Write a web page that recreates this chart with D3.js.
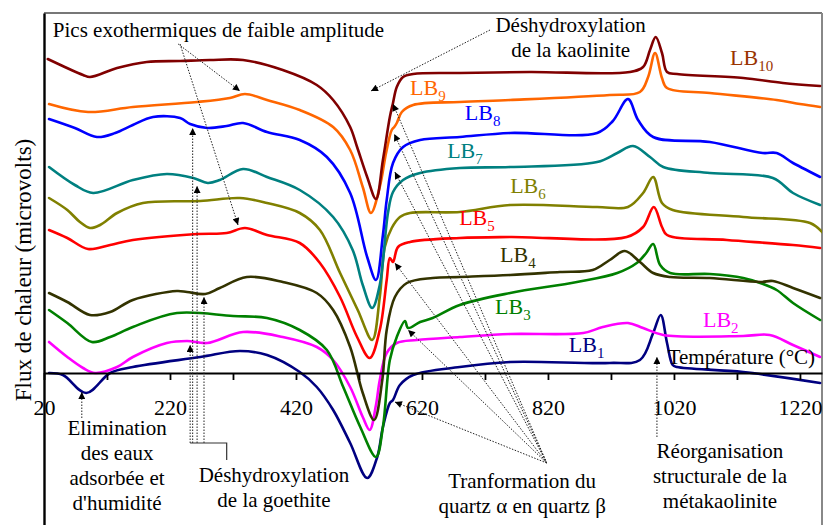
<!DOCTYPE html>
<html>
<head>
<meta charset="utf-8">
<script src="https://cdn.jsdelivr.net/npm/d3@7"></script>
<style>
  html, body { margin: 0; padding: 0; background: #fff; }
  svg { display: block; font-family: "Liberation Serif", "Times New Roman", serif; }
</style>
</head>
<body>
<svg id="chart" width="828" height="525"></svg>
<script>
// Thermal analysis (DTA) curves of samples LB1..LB10: heat flux vs temperature.
// Each series: [temperature °C, signal (arbitrary µV, stacked offsets)]
const lb1 = [[28,0],[50,-2],[87,-20],[125,0],[161,6],[268,16],[331,22],[374,18],[426,1],[453,-14],[479,-37],[506,-70],[533,-105],[549,-84],[558,-54],[569,-30],[574,-27],[585,-12],[606,-2],[680,6],[760,11],[918,10],[966,13],[987,40],[999,58],[1009,30],[1018,8],[1025,6],[1130,1],[1252,-10]];
const lb2 = [[28,31],[57,16],[82,5],[101,0],[136,6],[161,16],[215,30],[247,32],[279,30],[336,41],[399,36],[453,26],[479,13],[506,-14],[526,-44],[537,-57],[547,-32],[553,-7],[564,20],[580,30],[612,33],[680,36],[760,39],[876,40],[907,46],[947,50],[971,45],[1003,38],[1130,37],[1172,38],[1209,28],[1252,16]];
const lb3 = [[28,63],[57,50],[96,31],[125,36],[161,46],[231,60],[320,57],[374,55],[426,43],[469,23],[495,-14],[522,-54],[547,-84],[558,-54],[569,13],[580,36],[593,52],[598,45],[617,51],[637,55],[680,68],[760,80],[866,91],[930,100],[961,110],[976,120],[987,129],[998,108],[1014,100],[1077,99],[1130,95],[1157,90],[1183,83],[1209,70],[1252,53]];
const lb4 = [[28,80],[57,71],[93,58],[125,61],[161,73],[231,82],[247,81],[276,79],[299,85],[342,96],[399,91],[453,80],[479,63],[506,26],[526,-20],[544,-47],[557,-7],[564,43],[577,76],[596,90],[637,95],[680,96],[760,98],[839,101],[891,103],[918,113],[942,122],[966,111],[987,100],[1014,96],[1077,95],[1157,91],[1177,92],[1209,85],[1252,75]];
const lb5 = [[28,143],[57,135],[90,124],[125,128],[161,133],[263,139],[310,140],[339,145],[374,138],[426,130],[458,110],[490,76],[517,36],[537,15],[553,43],[564,93],[569,115],[574,111],[582,126],[601,131],[680,135],[760,136],[945,136],[971,146],[988,166],[1001,146],[1009,138],[1104,133],[1209,128],[1252,125]];
const lb6 = [[28,175],[57,163],[77,151],[93,145],[109,148],[136,160],[177,170],[268,172],[331,175],[374,170],[426,160],[458,143],[490,100],[518,63],[541,33],[553,76],[561,126],[572,145],[585,156],[601,160],[680,161],[760,168],[898,166],[947,166],[971,180],[987,196],[1001,170],[1018,163],[1130,156],[1236,150],[1255,141]];
const lb7 = [[28,206],[69,188],[98,180],[161,193],[215,199],[257,195],[280,190],[299,193],[336,204],[374,196],[426,183],[479,156],[510,123],[526,88],[541,65],[553,88],[566,160],[574,181],[590,193],[617,200],[680,205],[760,206],[898,211],[930,220],[955,227],[982,216],[1003,206],[1077,200],[1177,195],[1209,180],[1252,168]];
const lb8 = [[28,254],[69,245],[104,236],[133,240],[161,248],[193,256],[236,255],[252,249],[279,245],[310,247],[336,250],[374,241],[426,233],[469,216],[506,180],[533,116],[547,93],[558,138],[564,173],[574,210],[590,226],[617,233],[680,236],[760,240],[898,240],[923,252],[947,274],[963,253],[987,236],[1077,231],[1161,220],[1183,220],[1209,210],[1252,196]];
const lb9 = [[28,269],[90,261],[161,266],[263,271],[315,275],[339,279],[374,273],[426,263],[479,246],[506,223],[526,186],[539,160],[553,186],[563,220],[572,243],[576,246],[580,250],[588,261],[606,268],[680,271],[760,273],[918,278],[966,281],[979,296],[990,320],[1001,295],[1009,285],[1077,280],[1183,273],[1220,269],[1252,266]];
const lb10 = [[26,314],[82,298],[93,296],[136,305],[183,311],[236,312],[283,313],[336,313],[399,303],[453,288],[479,273],[506,246],[517,226],[533,196],[547,174],[558,213],[569,256],[574,270],[580,286],[590,296],[606,299],[680,300],[791,301],[950,301],[971,306],[982,323],[991,336],[1001,320],[1009,301],[1025,299],[1130,295],[1193,290],[1252,287]];

const seriesNames = ["LB1","LB2","LB3","LB4","LB5","LB6","LB7","LB8","LB9","LB10"];
const seriesData = [lb1, lb2, lb3, lb4, lb5, lb6, lb7, lb8, lb9, lb10];
const seriesColors = ["#000080","#ff00ff","#008000","#333300","#ff0000","#808000","#008080","#0000ff","#ff6600","#800000"];
const labelColors  = ["#000080","#ff00ff","#008000","#333300","#ff0000","#808000","#008080","#0000ff","#ff6600","#993300"];
// label anchor (start of "LB", baseline) in data coordinates
const labelPos = [[853,21],[1066,46],[736,59],[744,111],[679,148],[760,180],[660,215],[688,253],[601,278],[1109,308]];

const xTicks = [20,120,220,320,420,520,620,720,820,920,1020,1120,1220];
const xTickLabels = [20,220,420,620,820,1020,1220];

// Annotation texts (anchor in data coordinates)
const notes = [
  {lines:["Pics exothermiques de faible amplitude"], at:[34,336], anchor:"start"},
  {lines:["Déshydroxylation","de la kaolinite"], at:[856,341], anchor:"middle"},
  {lines:["Elimination","des eaux","adsorbée et","d'humidité"], at:[136,-62], anchor:"middle"},
  {lines:["Déshydroxylation","de la goethite"], at:[385,-109], anchor:"middle"},
  {lines:["Tranformation du","quartz α en quartz β"], at:[779,-115], anchor:"middle"},
  {lines:["Réorganisation","structurale de la","métakaolinite"], at:[1093,-85], anchor:"middle"}
];
// Dotted arrows: [from, to] in data coordinates
const arrows = [
  [[233,329],[331,282]],
  [[236,329],[328,148]],
  [[728,343],[539,282]],
  [[252,-70],[252,28]],
  [[256,-70],[256,245]],
  [[263,-70],[263,187]],
  [[274,-70],[274,76]],
  [[80,-45],[80,-19]],
  [[818,-90],[574,269]],
  [[818,-90],[576,239]],
  [[818,-90],[577,201]],
  [[818,-90],[577,110]],
  [[818,-90],[598,43]],
  [[818,-90],[577,-29]],
  [[993,-64],[993,16]]
];
// Solid bracket joining the goethite arrows to their caption
const bracket = [[252,-70],[310,-70],[310,-87]];

const svg = d3.select("#chart");
const W = 828, H = 525;

const x = d3.scaleLinear().domain([20, 1255]).range([44, 822]);
const y = d3.scaleLinear().domain([-152, 360]).range([525, 13]);

const defs = svg.append("defs");
defs.append("clipPath").attr("id","plotclip")
  .append("rect").attr("x", x(20)).attr("y", y(360)).attr("width", x(1255)-x(20)).attr("height", y(-152)-y(360));
defs.append("marker").attr("id","head")
  .attr("viewBox","0 0 10 10").attr("refX",10).attr("refY",5)
  .attr("markerWidth",8).attr("markerHeight",7).attr("markerUnits","userSpaceOnUse")
  .attr("orient","auto")
  .append("path").attr("d","M0,0 L10,5 L0,10 Z").attr("fill","#000");

// frame (top and right)
svg.append("line").attr("x1", x(20)).attr("x2", x(1255)).attr("y1", y(360)).attr("y2", y(360))
  .attr("stroke","#777").attr("stroke-width",2);
svg.append("line").attr("x1", x(1255)).attr("x2", x(1255)).attr("y1", y(360)).attr("y2", y(-152))
  .attr("stroke","#888").attr("stroke-width",2);

// curves
const line = d3.line().x(d => x(d[0])).y(d => y(d[1])).curve(d3.curveCatmullRom.alpha(0.5));
const gCurves = svg.append("g").attr("clip-path","url(#plotclip)");
seriesData.forEach((s, i) => {
  gCurves.append("path").datum(s)
    .attr("d", line)
    .attr("fill","none")
    .attr("stroke", seriesColors[i])
    .attr("stroke-width", 2.6)
    .attr("stroke-linejoin","round")
    .attr("stroke-linecap","round");
});

// x axis at signal 0
const xAxis = d3.axisBottom(x)
  .tickValues(xTicks)
  .tickSize(7)
  .tickSizeOuter(0)
  .tickFormat(d => xTickLabels.includes(d) ? String(d) : "");
const gx = svg.append("g").attr("transform", `translate(0,${y(0)})`).call(xAxis);
gx.select(".domain").attr("stroke","#000").attr("stroke-width",2.2);
gx.selectAll(".tick line").attr("stroke","#000").attr("stroke-width",1.8);
gx.selectAll(".tick text")
  .attr("font-family","Liberation Serif, Times New Roman, serif")
  .attr("font-size",22).attr("fill","#000").attr("dy",0).attr("y",42);

// y axis (no ticks)
const yAxis = d3.axisLeft(y).tickValues([]).tickSizeOuter(0);
const gy = svg.append("g").attr("transform", `translate(${x(20)},0)`).call(yAxis);
gy.select(".domain").attr("stroke","#000").attr("stroke-width",2.4);

svg.append("text")
  .attr("transform", `translate(31,${(y(360)+y(-152))/2 + 1}) rotate(-90)`)
  .attr("text-anchor","middle")
  .attr("font-size",23)
  .attr("fill","#000")
  .text("Flux de chaleur (microvolts)");

svg.append("text")
  .attr("x", x(1010)).attr("y", y(9))
  .attr("font-size",21).attr("fill","#000")
  .text("Température (°C)");

// series labels with subscripts
seriesNames.forEach((n, i) => {
  const t = svg.append("text")
    .attr("x", x(labelPos[i][0])).attr("y", y(labelPos[i][1]))
    .attr("font-size",22).attr("fill", labelColors[i]);
  t.append("tspan").text("LB");
  t.append("tspan").attr("font-size",15).attr("dy",6).text(n.slice(2));
});

// dotted arrows
const gA = svg.append("g");
arrows.forEach(a => {
  gA.append("line")
    .attr("x1", x(a[0][0])).attr("y1", y(a[0][1]))
    .attr("x2", x(a[1][0])).attr("y2", y(a[1][1]))
    .attr("stroke","#222").attr("stroke-width",1)
    .attr("stroke-dasharray","1.5,1.5")
    .attr("marker-end","url(#head)");
});
svg.append("path").datum(bracket)
  .attr("d", d3.line().x(d => x(d[0])).y(d => y(d[1])))
  .attr("fill","none").attr("stroke","#333").attr("stroke-width",1.2);

// annotation texts
notes.forEach(nt => {
  const t = svg.append("text")
    .attr("x", x(nt.at[0])).attr("y", y(nt.at[1]))
    .attr("text-anchor", nt.anchor)
    .attr("font-size",21).attr("fill","#000");
  nt.lines.forEach((l, k) => {
    t.append("tspan").attr("x", x(nt.at[0])).attr("dy", k === 0 ? 0 : 25).text(l);
  });
});
</script>
</body>
</html>
